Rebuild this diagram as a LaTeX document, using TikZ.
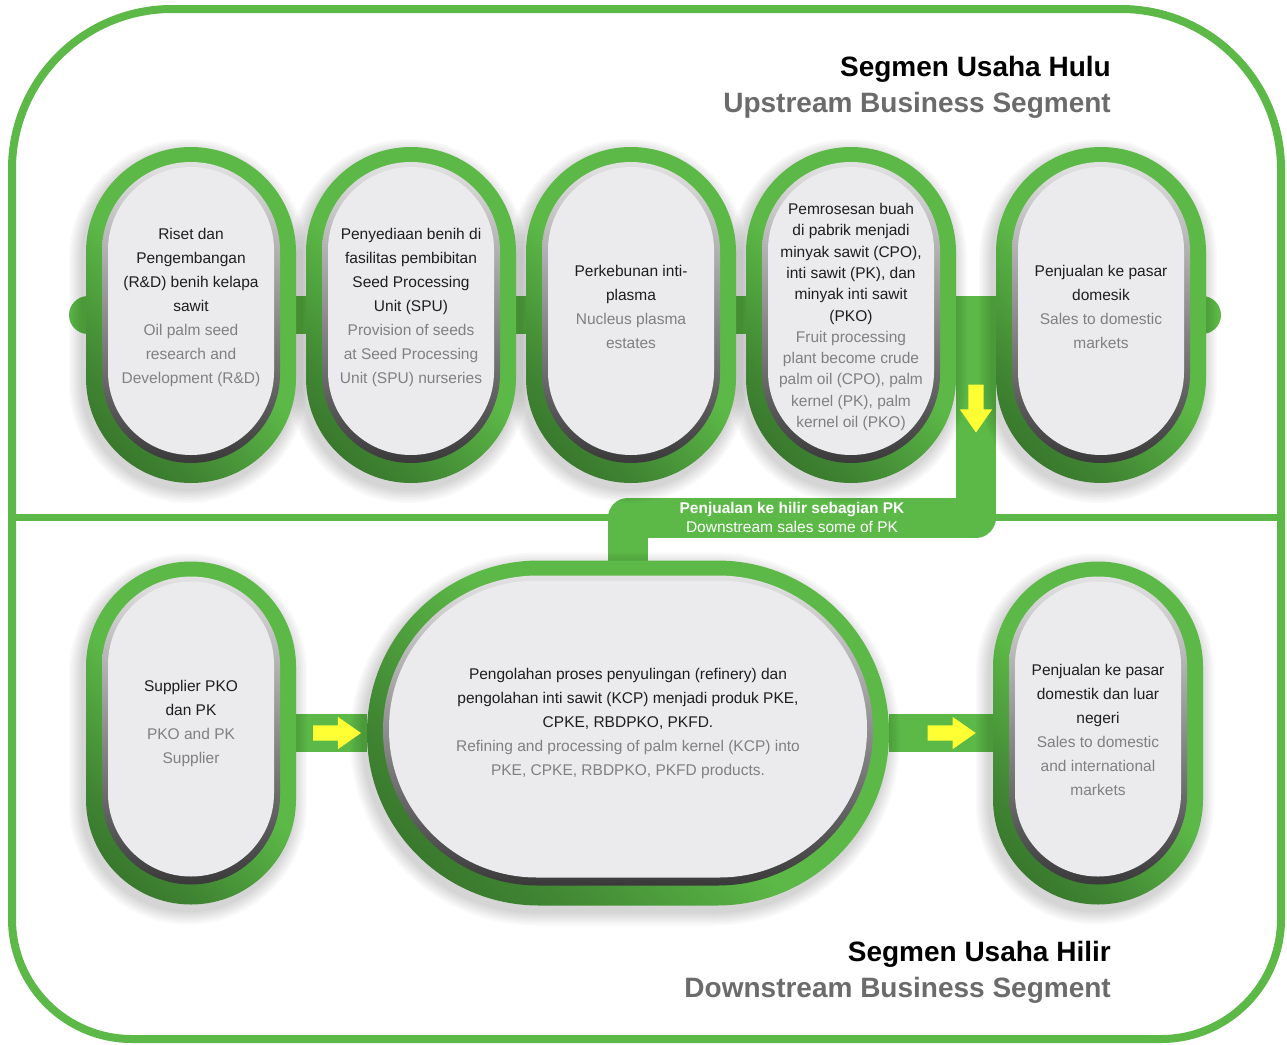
\documentclass[tikz,border=0pt]{standalone}
\usepackage{fontspec}
\setmainfont{Liberation Sans}
\usetikzlibrary{positioning, calc, backgrounds, shapes.arrows}

\definecolor{daungreen}{HTML}{5CB947}
\definecolor{daundark}{HTML}{24521E}
\definecolor{panahyellow}{HTML}{FFFF33}
\definecolor{ringtop}{HTML}{E2E2E2}
\definecolor{ringmid}{HTML}{A4A4A4}
\definecolor{ringbot}{HTML}{3A3A3A}
\definecolor{facegray}{HTML}{EBEBED}
\definecolor{textdark}{HTML}{1E1E1E}
\definecolor{textgray}{HTML}{808080}
\definecolor{headgray}{HTML}{6B6B6B}

\pgfdeclareverticalshading{pillgreen}{100bp}{color(0bp)=(daundark); color(30bp)=(daundark!50!daungreen); color(50bp)=(daungreen); color(100bp)=(daungreen)}

\newcommand{\en}[1]{\textcolor{textgray}{#1}}

% bingkai abu-abu dan muka terang di dalam kapsul
\newcommand{\pillface}[3]{%
  \shade[top color=ringtop, middle color=ringmid, bottom color=ringbot, rounded corners=#2]
    ([xshift=16pt,yshift=-15pt]#1.north west) rectangle ([xshift=-16pt,yshift=20pt]#1.south east);
  \fill[facegray, rounded corners=#3]
    ([xshift=22pt,yshift=-20pt]#1.north west) rectangle ([xshift=-22pt,yshift=28pt]#1.south east);
}
% bayangan lembut di bawah kapsul
\newcommand{\pillshadow}[2]{%
  \foreach \s in {2,4,...,14}
    \fill[black, opacity=0.022, rounded corners={#2+\s*1pt}]
      ([xshift=-\s*1pt-3pt, yshift=\s*1pt-6pt]#1.north west) rectangle
      ([xshift=\s*1pt-3pt, yshift=-\s*1pt-6pt]#1.south east);
}

\begin{document}
\begin{tikzpicture}[x=1pt, y=-1pt,
    pill/.style={rectangle, inner sep=0pt, outer sep=0pt,
        minimum width=210pt, minimum height=336pt, rounded corners=105pt,
        shading=pillgreen, shading angle=-45},
    bigpill/.style={pill, minimum width=522pt, minimum height=345pt, rounded corners=172pt},
    pilltext/.style={align=center, text=textdark, inner sep=0pt,
        font=\fontsize{15.5}{24}\selectfont},
    bandtext/.style={align=center, text=white, inner sep=0pt,
        font=\fontsize{15.5}{19}\selectfont},
    headtext/.style={align=right, anchor=east, inner sep=0pt,
        font=\bfseries\fontsize{28}{36}\selectfont},
    outerframe/.style={line width=8pt, draw=daungreen},
    bar/.style={line width=38pt, draw=daungreen},
    branch/.style={line width=40pt, draw=daungreen, line join=round},
    yarrow/.style={single arrow, fill=panahyellow, draw=none, inner sep=7.5pt,
        minimum height=48pt, single arrow head extend=8.5pt,
        single arrow tip angle=70}
]

\useasboundingbox (0,0) rectangle (1287,1044);

% latar dan bingkai luar
\begin{scope}[on background layer]
  \fill[white] (0,0) rectangle (1287,1044);
  \draw[outerframe, rounded corners=160pt] (12,517) -- (12,9) -- (1281,9) -- (1281,517);
  \draw[outerframe, rounded corners=120pt] (1281,517) -- (1281,1039) -- (12,1039) -- (12,517);
  \draw[line width=7pt, draw=daungreen] (12,517) -- (1281,517); % garis pemisah
\end{scope}

% Segmen hulu
\node[pill] (up1) at (191,315) {};
\node[pill, right=10pt of up1] (up2) {};
\node[pill, right=10pt of up2] (up3) {};
\node[pill, right=10pt of up3] (up4) {};
\node[pill, right=40pt of up4] (up5) {};

% Segmen hilir
\node[pill, minimum height=343pt] (dn1) at (191,733) {};
\node[bigpill, right=71pt of dn1] (dn2) {};
\node[pill, minimum height=343pt, right=104pt of dn2] (dn3) {};

\foreach \p in {up1,up2,up3,up4,up5,dn1,dn3}{\pillface{\p}{89pt}{83pt}}
\pillface{dn2}{155pt}{148pt}

% penghubung hijau
\coordinate (midline) at (0,517.5);
\begin{scope}[on background layer]
  \draw[bar, line cap=round] ([xshift=2pt]up1.west) -- ([xshift=-4pt]up5.east);
  \draw[branch] ($(up4.east)!0.5!(up5.west)$) |- (midline -| dn2.north) -- (dn2.north);
  \draw[bar] (dn1.east) -- (dn2.west);
  \draw[bar] (dn2.east) -- (dn3.west);
  \foreach \p in {up1,up2,up3,up4,up5,dn1,dn3}{\pillshadow{\p}{105pt}}
  \pillshadow{dn2}{172pt}
\end{scope}

% panah kuning
\node[yarrow, rotate=-90] (arrdown) at ([yshift=-88pt]$(up4.east)!0.5!(up5.west)$) {};
\node[yarrow] (arrin) at ($(dn1.east)!0.5!(dn2.west)$) {};
\node[yarrow] (arrout) at ($(dn2.east)!0.55!(dn3.west)$) {};

% teks kapsul
\node[pilltext] (up1t) at ([yshift=8pt]up1.center) {Riset dan\\Pengembangan\\(R\&D) benih kelapa\\sawit\\\en{Oil palm seed}\\\en{research and}\\\en{Development (R\&D)}};
\node[pilltext] (up2t) at ([yshift=8pt]up2.center) {Penyediaan benih di\\fasilitas pembibitan\\Seed Processing\\Unit (SPU)\\\en{Provision of seeds}\\\en{at Seed Processing}\\\en{Unit (SPU) nurseries}};
\node[pilltext] (up3t) at ([yshift=8pt]up3.center) {Perkebunan inti-\\plasma\\\en{Nucleus plasma}\\\en{estates}};
\node[pilltext, font=\fontsize{15.5}{21.3}\selectfont] (up4t) at ([yshift=-2pt]up4.center) {Pemrosesan buah\\di pabrik menjadi\\minyak sawit (CPO),\\inti sawit (PK), dan\\minyak inti sawit\\(PKO)\\\en{Fruit processing}\\\en{plant become crude}\\\en{palm oil (CPO), palm}\\\en{kernel (PK), palm}\\\en{kernel oil (PKO)}};
\node[pilltext] (up5t) at ([yshift=8pt]up5.center) {Penjualan ke pasar\\domesik\\\en{Sales to domestic}\\\en{markets}};

\node[pilltext] (dn1t) at ([yshift=10pt]dn1.center) {Supplier PKO\\dan PK\\\en{PKO and PK}\\\en{Supplier}};
\node[pilltext] (dn2t) at ([yshift=10pt]dn2.center) {Pengolahan proses penyulingan (refinery) dan\\pengolahan inti sawit (KCP) menjadi produk PKE,\\CPKE, RBDPKO, PKFD.\\\en{Refining and processing of palm kernel (KCP) into}\\\en{PKE, CPKE, RBDPKO, PKFD products.}};
\node[pilltext] (dn3t) at ([yshift=3pt]dn3.center) {Penjualan ke pasar\\domestik dan luar\\negeri\\\en{Sales to domestic}\\\en{and international}\\\en{markets}};

% teks pada jalur hilir
\node[bandtext] (salesPK) at (792,517.5) {\textbf{Penjualan ke hilir sebagian PK}\\Downstream sales some of PK};

% judul segmen
\node[headtext] (hulu) at (1111,87) {Segmen Usaha Hulu\\\textcolor{headgray}{Upstream Business Segment}};
\node[headtext] (hilir) at (1111,972) {Segmen Usaha Hilir\\\textcolor{headgray}{Downstream Business Segment}};

\end{tikzpicture}
\end{document}
